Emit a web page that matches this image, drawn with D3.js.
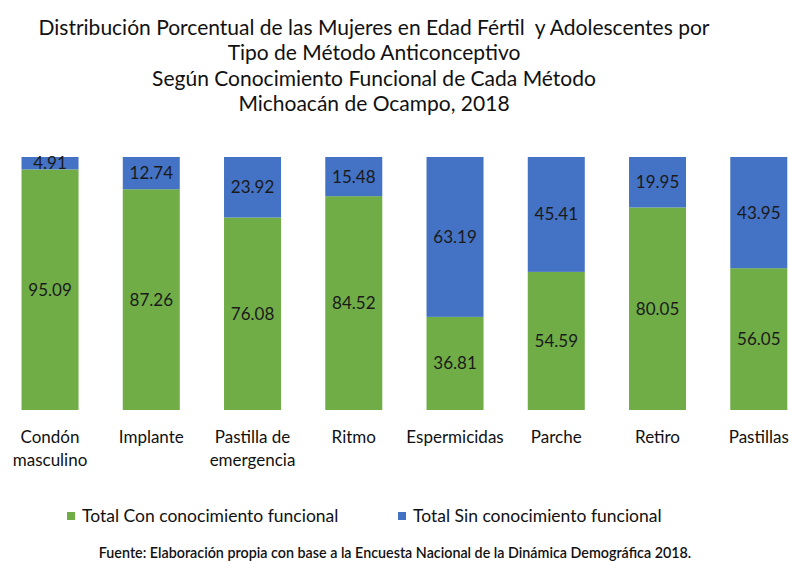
<!DOCTYPE html>
<html><head><meta charset="utf-8">
<script src="https://cdn.jsdelivr.net/npm/d3@7"></script>
<style>body{margin:0;background:#fff}svg{display:block}</style>
</head><body><svg id="c" width="789" height="561"></svg>
<script>
const categories = [["Condón","masculino"],["Implante"],["Pastilla de","emergencia"],["Ritmo"],["Espermicidas"],["Parche"],["Retiro"],["Pastillas"]];
const conValues = [95.09, 87.26, 76.08, 84.52, 36.81, 54.59, 80.05, 56.05];
const sinValues = [4.91, 12.74, 23.92, 15.48, 63.19, 45.41, 19.95, 43.95];
const seriesNames = ["Total Con conocimiento funcional", "Total Sin conocimiento funcional"];
const colors = ["#70AD47", "#4472C4"];
const titleLines = ["Distribución Porcentual de las Mujeres en Edad Fértil  y Adolescentes por","Tipo de Método Anticonceptivo","Según Conocimiento Funcional de Cada Método","Michoacán de Ocampo, 2018"];
const source = "Fuente: Elaboración propia con base a la Encuesta Nacional de la Dinámica Demográfica 2018.";

const svg = d3.select("#c");
const font = "Lato, 'Open Sans', sans-serif";
const keys = categories.map(c => c.join(" "));
const x = d3.scaleBand().domain(keys).range([-0.6, 809.4]).paddingInner(0.437).paddingOuter(0.2185);
const y = d3.scaleLinear().domain([0, 100]).range([410, 157]);

svg.append("g").selectAll("text").data(titleLines).join("text")
  .attr("x", 374).attr("y", (d,i) => 34.5 + i*25.5).attr("text-anchor","middle")
  .attr("font-family", font).attr("font-size", 21).attr("fill","#111")
  .style("white-space","pre").text(d => d);

const data = keys.map((k,i) => ({k, con: conValues[i], sin: sinValues[i]}));
const stack = d3.stack().keys(["con","sin"])(data);
const g = svg.append("g");
stack.forEach((s, si) => {
  g.append("g").selectAll("rect").data(s).join("rect")
    .attr("x", d => x(d.data.k)).attr("width", x.bandwidth())
    .attr("y", d => y(d[1])).attr("height", d => y(d[0]) - y(d[1]))
    .attr("fill", colors[si]);
  g.append("g").selectAll("text").data(s).join("text")
    .attr("x", d => x(d.data.k) + x.bandwidth()/2)
    .attr("y", d => (y(d[0]) + y(d[1]))/2 + 6)
    .attr("text-anchor","middle").attr("font-family", font).attr("font-size", 17)
    .attr("fill","#1a1a1a").text(d => (d[1]-d[0]).toFixed(2));
});

const xa = svg.append("g");
xa.selectAll("text").data(categories).join("text")
  .attr("x", (d,i) => x(keys[i]) + x.bandwidth()/2).attr("y", 443)
  .attr("text-anchor","middle").attr("font-family", font).attr("font-size", 17).attr("fill","#111")
  .each(function(d){ const t = d3.select(this); d.forEach((l,j) => t.append("tspan").attr("x", t.attr("x")).attr("dy", j ? 23 : 0).text(l)); });

const lg = svg.append("g");
const lx = [67, 398];
seriesNames.forEach((n,i) => {
  lg.append("rect").attr("x", lx[i]).attr("y", 512).attr("width", 8).attr("height", 8).attr("fill", colors[i]);
  lg.append("text").attr("x", lx[i] + 15).attr("y", 522).attr("font-family", font).attr("font-size", 17.5).attr("fill","#111").text(n);
});

svg.append("text").attr("x", 395).attr("y", 558).attr("text-anchor","middle")
  .attr("font-family", font).attr("font-size", 14.3).attr("font-weight", 600).attr("fill","#111").text(source);
</script></body></html>
